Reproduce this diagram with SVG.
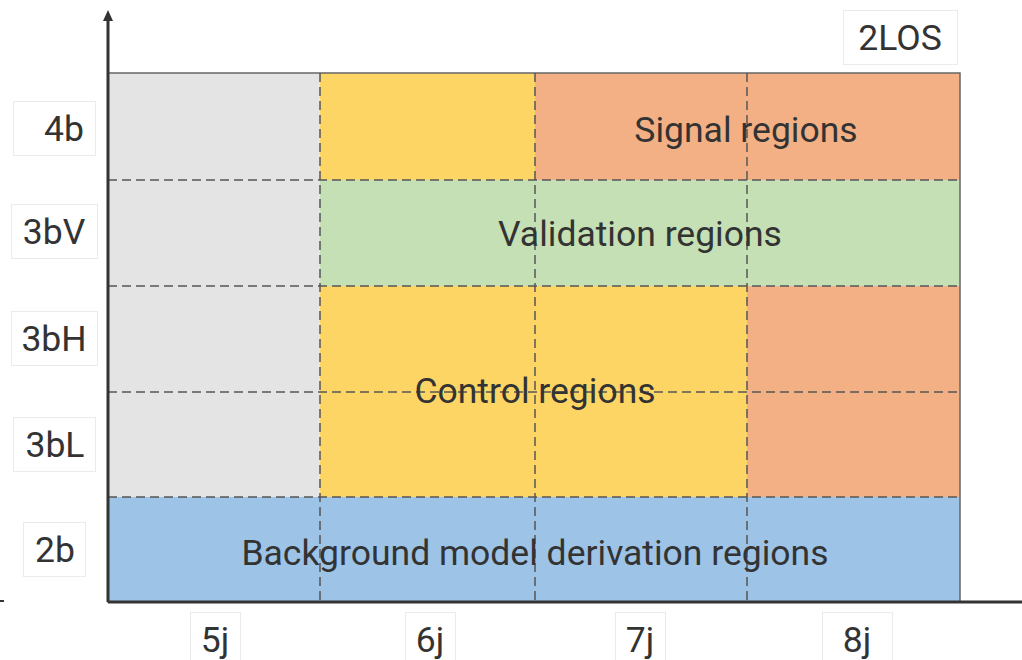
<svg xmlns="http://www.w3.org/2000/svg" width="1022" height="660" viewBox="0 0 1022 660">
<style>
.lbl{font-family:Roboto,"Liberation Sans",sans-serif;font-size:35.5px;fill:#333;text-anchor:middle}
.big{font-family:Roboto,"Liberation Sans",sans-serif;font-size:35.5px;fill:#333;text-anchor:middle}
.box{fill:#fff;stroke:#ebebeb;stroke-width:1}
.dash{stroke:#555;stroke-width:1.5;stroke-dasharray:9 5;fill:none}
.axis{stroke:#333;stroke-width:3;fill:none}
</style>
<rect width="1022" height="660" fill="#fff"/>
<g id="regions">
<rect id="gray" x="108" y="73" width="212" height="424" fill="#e4e4e4"/>
<rect id="yellow-top" x="320" y="73" width="215" height="107" fill="#fcd565"/>
<rect id="signal" x="535" y="73" width="425" height="107" fill="#f2b084"/>
<rect id="validation" x="320" y="180" width="640" height="106" fill="#c5e0b4"/>
<rect id="control" x="320" y="286" width="427" height="211" fill="#fcd565"/>
<rect id="orange-cr" x="747" y="286" width="213" height="211" fill="#f2b084"/>
<rect id="background" x="108" y="497" width="852" height="105" fill="#9dc3e6"/>
<rect x="108" y="73" width="852" height="529" fill="none" stroke="#666" stroke-width="1.5"/>
</g>
<g id="connectors">
<path class="dash" d="M108,180H960M108,286H960M108,392H960M108,497H960"/>
<path class="dash" d="M320,73V602M535,73V602M747,73V602"/>
<path class="axis" d="M108,602V20"/>
<polygon points="108,10 103,21 113,21" fill="#333"/>
<path class="axis" d="M108,602H1022"/>
<path d="M0,601H4" stroke="#333" stroke-width="2"/>
</g>
<g id="region-labels">
<text class="big" x="746" y="142">Signal regions</text>
<text class="big" x="640" y="246">Validation regions</text>
<text class="big" x="535" y="403">Control regions</text>
<text class="big" x="535" y="565">Background model derivation regions</text>
</g>
<g id="y-labels">
<g id="y-4b"><rect class="box" x="13.5" y="101.5" width="82" height="54"/><text class="lbl" x="64" y="141">4b</text></g>
<g id="y-3bV"><rect class="box" x="11.5" y="204.5" width="86" height="54"/><text class="lbl" x="54" y="244">3bV</text></g>
<g id="y-3bH"><rect class="box" x="11.5" y="311.5" width="86" height="54"/><text class="lbl" x="54" y="351">3bH</text></g>
<g id="y-3bL"><rect class="box" x="13.5" y="417.5" width="82" height="54"/><text class="lbl" x="55" y="457">3bL</text></g>
<g id="y-2b"><rect class="box" x="23.5" y="522.5" width="62" height="54"/><text class="lbl" x="55" y="562">2b</text></g>
</g>
<g id="x-labels">
<g id="x-5j"><rect class="box" x="190.5" y="612.5" width="50" height="54"/><text class="lbl" x="215" y="652">5j</text></g>
<g id="x-6j"><rect class="box" x="405.5" y="612.5" width="50" height="54"/><text class="lbl" x="430" y="652">6j</text></g>
<g id="x-7j"><rect class="box" x="615.5" y="612.5" width="50" height="54"/><text class="lbl" x="640" y="652">7j</text></g>
<g id="x-8j"><rect class="box" x="822.5" y="612.5" width="70" height="54"/><text class="lbl" x="857" y="652">8j</text></g>
</g>
<g id="title-2LOS"><rect class="box" x="843.5" y="10.5" width="114" height="54"/><text class="lbl" x="900" y="50">2LOS</text></g>
</svg>
